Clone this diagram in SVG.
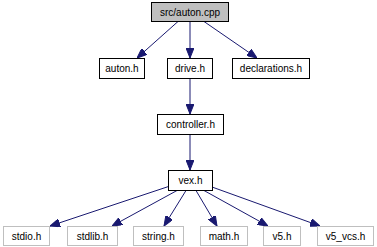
<svg xmlns="http://www.w3.org/2000/svg" width="377" height="247" viewBox="0 0 377 247">
  <style>
    .node rect { fill: #ffffff; stroke: #000000; stroke-width: 1; }
    .node.root rect { fill: #bfbfbf; }
    .node.ext rect { stroke: #bfbfbf; }
    .node text { font-family: "Liberation Sans", Arial, Helvetica, sans-serif; font-size: 10px; fill: #000000; text-anchor: middle; }
    .edge { stroke: #191970; stroke-width: 1; fill: none; marker-end: url(#arrow); }
  </style>
  <defs>
    <marker id="arrow" markerUnits="userSpaceOnUse" markerWidth="10" markerHeight="8" refX="10" refY="4" orient="auto">
      <path d="M0,0 L10,4 L0,8 z" fill="#191970" stroke="#191970" stroke-width="1"/>
    </marker>
  </defs>

  <g id="edges">
    <line class="edge" x1="178" y1="21.5" x2="137" y2="58"/>
    <line class="edge" x1="190" y1="21.5" x2="190" y2="58"/>
    <line class="edge" x1="204" y1="21.5" x2="257" y2="58"/>
    <line class="edge" x1="190" y1="78.5" x2="190" y2="114"/>
    <line class="edge" x1="190" y1="134.5" x2="190" y2="170"/>
    <line class="edge" x1="170" y1="186" x2="50" y2="226"/>
    <line class="edge" x1="177" y1="190.5" x2="112" y2="226"/>
    <line class="edge" x1="186" y1="190.5" x2="164" y2="226"/>
    <line class="edge" x1="196" y1="190.5" x2="217" y2="226"/>
    <line class="edge" x1="204" y1="190.5" x2="268" y2="226"/>
    <line class="edge" x1="212" y1="187" x2="320" y2="226"/>
  </g>

  <g id="n_auton_cpp" class="node root">
    <rect x="151.5" y="2.5" width="77" height="19"/>
    <text x="190" y="15.5">src/auton.cpp</text>
  </g>
  <g id="n_auton_h" class="node">
    <rect x="99.5" y="58.5" width="45" height="20"/>
    <text x="122" y="72">auton.h</text>
  </g>
  <g id="n_drive_h" class="node">
    <rect x="167.5" y="58.5" width="45" height="20"/>
    <text x="190" y="72">drive.h</text>
  </g>
  <g id="n_declarations_h" class="node">
    <rect x="232.5" y="58.5" width="77" height="20"/>
    <text x="271" y="72">declarations.h</text>
  </g>
  <g id="n_controller_h" class="node">
    <rect x="157.5" y="114.5" width="66" height="20"/>
    <text x="190.5" y="128">controller.h</text>
  </g>
  <g id="n_vex_h" class="node">
    <rect x="168.5" y="170.5" width="44" height="20"/>
    <text x="190.5" y="184">vex.h</text>
  </g>
  <g id="n_stdio_h" class="node ext">
    <rect x="3.5" y="226.5" width="46" height="19"/>
    <text x="26.5" y="239.5">stdio.h</text>
  </g>
  <g id="n_stdlib_h" class="node ext">
    <rect x="67.5" y="226.5" width="50" height="19"/>
    <text x="92.5" y="239.5">stdlib.h</text>
  </g>
  <g id="n_string_h" class="node ext">
    <rect x="133.5" y="226.5" width="50" height="19"/>
    <text x="158.5" y="239.5">string.h</text>
  </g>
  <g id="n_math_h" class="node ext">
    <rect x="200.5" y="226.5" width="47" height="19"/>
    <text x="224" y="239.5">math.h</text>
  </g>
  <g id="n_v5_h" class="node ext">
    <rect x="263.5" y="226.5" width="37" height="19"/>
    <text x="282" y="239.5">v5.h</text>
  </g>
  <g id="n_v5_vcs_h" class="node ext">
    <rect x="317.5" y="226.5" width="56" height="19"/>
    <text x="345.5" y="239.5">v5_vcs.h</text>
  </g>
</svg>
